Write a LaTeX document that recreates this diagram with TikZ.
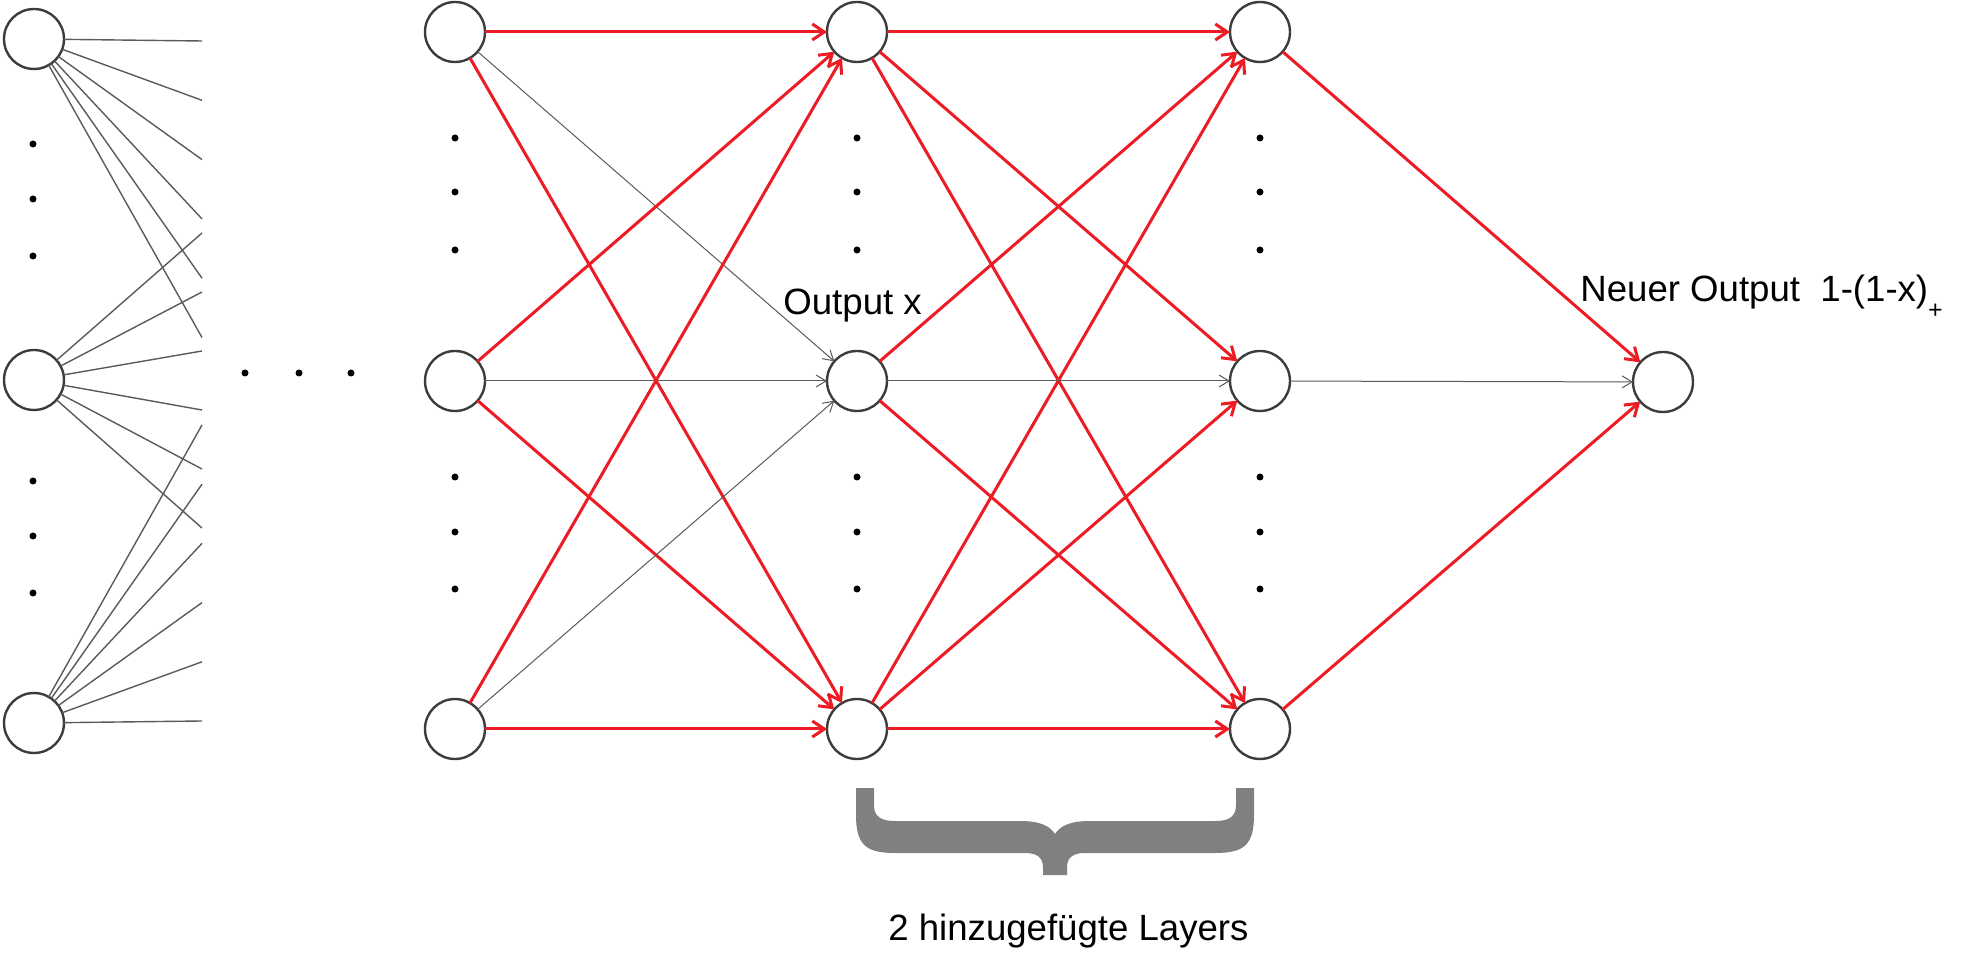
\documentclass[tikz,border=0pt]{standalone}
\usepackage{fontspec}
\setmainfont{Liberation Sans}
\usetikzlibrary{arrows.meta}
\definecolor{netred}{HTML}{ED1C24}
\definecolor{netgray}{HTML}{5A5A5A}
\definecolor{ringgray}{HTML}{3C3C3C}
\definecolor{bracegray}{HTML}{808080}
\tikzset{
	neuron/.style={circle,draw=ringgray,line width=1.2pt,minimum size=30pt,inner sep=0pt,outer sep=0pt},
	redarrow/.style={draw=netred,line width=1.5pt,-{Straight Barb[length=6pt,width=8pt]}},
	grayarrow/.style={draw=netgray,line width=0.5pt,-{Straight Barb[length=5pt,width=6pt]}},
	fanline/.style={draw=netgray,line width=0.7pt},
	lbl/.style={inner sep=0pt,anchor=base west,font=\fontsize{18.3}{22}\selectfont}
}
\newcommand{\plussub}{\raisebox{-8.5pt}{\fontsize{12.5}{13}\selectfont+}}
\begin{document}
\begin{tikzpicture}[x=0.5pt,y=-0.5pt]
			\useasboundingbox (0,0) rectangle (1978,962);
			\node[neuron] (i1) at (34,39) {};
			\node[neuron] (i2) at (34,380) {};
			\node[neuron] (i3) at (34,723) {};
			\foreach \c/\x in {a/455,b/857,c/1260} {
				\node[neuron] (\c1) at (\x,32) {};
				\node[neuron] (\c2) at (\x,381) {};
				\node[neuron] (\c3) at (\x,729) {};
			}
			\node[neuron] (out) at (1663,382) {};
			% fans of the first layer
			\foreach \k in {0,...,5} {
				\coordinate (ft\k) at (202,41+59.3*\k);
				\coordinate (fm\k) at (202,233+59*\k);
				\coordinate (fb\k) at (202,721-59.2*\k);
				\draw[fanline] (i1) -- (ft\k);
				\draw[fanline] (i2) -- (fm\k);
				\draw[fanline] (i3) -- (fb\k);
			}
			\foreach \y in {144,199,256,481,536,593} \fill (33,\y) circle [radius=1.75pt];
			\foreach \x in {455,857,1260}
				\foreach \y in {138,192,250,477,532,589} \fill (\x,\y) circle [radius=1.75pt];
			\foreach \x in {245,299,351} \fill (\x,373) circle [radius=1.75pt];
			\foreach \s in {1,2,3} {
				\draw[redarrow] (a\s) -- (b1);
				\draw[grayarrow] (a\s) -- (b2);
				\draw[redarrow] (a\s) -- (b3);
			}
			\foreach \s/\t in {1/1,1/2,1/3,2/1,2/3,3/1,3/2,3/3} \draw[redarrow] (b\s) -- (c\t);
			\draw[grayarrow] (b2) -- (c2);
			\draw[redarrow] (c1) -- (out);
			\draw[grayarrow] (c2) -- (out);
			\draw[redarrow] (c3) -- (out);
			\node[lbl] (outx) at (783,315) {Output x};
			\node[lbl] (newout) at (1580,302) {Neuer Output\ \ 1-(1-x)\plussub};
			\fill[bracegray] (856,788) -- (856,815) .. controls (856,845) and (866,853) .. (895,853) -- (1025,853) .. controls (1040,853) and (1043,860) .. (1043,868) -- (1043,875) -- (1067,875) -- (1067,868) .. controls (1067,860) and (1070,853) .. (1085,853) -- (1215,853) .. controls (1244,853) and (1254,845) .. (1254,815) -- (1254,788) -- (1236,788) -- (1236,805) .. controls (1236,816) and (1230,821) .. (1215,821) -- (1090,821) .. controls (1070,821) and (1060,826) .. (1055,834) .. controls (1050,826) and (1040,821) .. (1020,821) -- (895,821) .. controls (880,821) and (874,816) .. (874,805) -- (874,788) -- cycle;
			\node[lbl] (layers) at (888,940) {2 hinzugefügte Layers};
		\end{tikzpicture}
\end{document}
